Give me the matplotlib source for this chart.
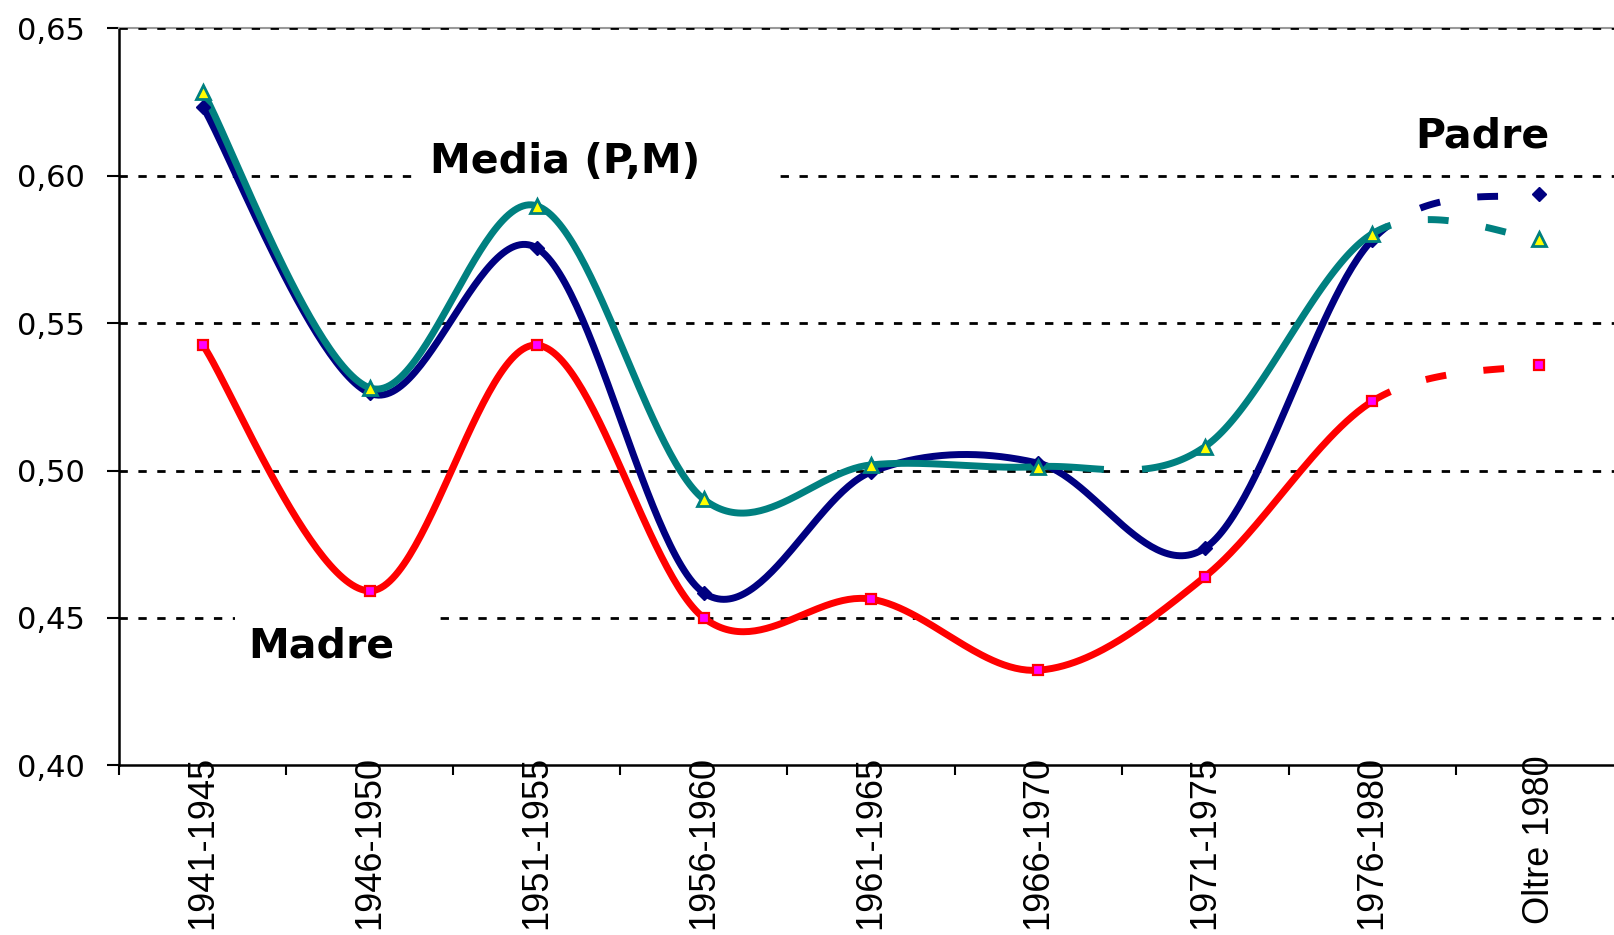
import numpy as np
import matplotlib
matplotlib.use("Agg")
import matplotlib.pyplot as plt
from matplotlib.patches import Rectangle
from matplotlib.ticker import FixedLocator, FuncFormatter

plt.rcParams["font.family"] = ["Liberation Sans", "DejaVu Sans"]

categories = ["1941-1945", "1946-1950", "1951-1955", "1956-1960", "1961-1965",
              "1966-1970", "1971-1975", "1976-1980", "Oltre 1980"]
padre = [0.6233, 0.5262, 0.5754, 0.4585, 0.4995, 0.5025, 0.4737, 0.5781, 0.5937]
madre = [0.5425, 0.4592, 0.5425, 0.4500, 0.4564, 0.4323, 0.4640, 0.5234, 0.5358]
media = [0.6284, 0.5280, 0.5897, 0.4902, 0.5019, 0.5013, 0.5081, 0.5802, 0.5785]
yticks = [0.40, 0.45, 0.50, 0.55, 0.60, 0.65]

TEAL = "#008080"
NAVY = "#000080"
RED = "#FF0000"


def bezier_segments(xv, yv, n=60):
    P = np.column_stack([xv, yv]).astype(float)
    segs = []
    t = np.linspace(0, 1, n)[:, None]
    for i in range(len(P) - 1):
        p0 = P[i - 1] if i > 0 else P[i]
        p1, p2 = P[i], P[i + 1]
        p3 = P[i + 2] if i + 2 < len(P) else P[i + 1]
        c1 = p1 + (p2 - p0) / 6.0
        c2 = p2 - (p3 - p1) / 6.0
        B = (1 - t) ** 3 * p1 + 3 * (1 - t) ** 2 * t * c1 + 3 * (1 - t) * t ** 2 * c2 + t ** 3 * p2
        segs.append(B)
    return segs


def draw_series(ax, values, color, dashed, z, lw=5.0):
    xv = np.arange(len(values))
    segs = bezier_segments(xv, values)
    run = []
    for i, s in enumerate(segs):
        if i in dashed:
            if run:
                pts = np.vstack(run)
                ax.plot(pts[:, 0], pts[:, 1], color=color, lw=lw, zorder=z,
                        solid_capstyle="butt", solid_joinstyle="round")
                run = []
            ax.plot(s[:, 0], s[:, 1], color=color, lw=lw, zorder=z,
                    linestyle=(0, dashed[i]), dash_capstyle="butt")
        else:
            run.append(s)
    if run:
        pts = np.vstack(run)
        ax.plot(pts[:, 0], pts[:, 1], color=color, lw=lw, zorder=z,
                solid_capstyle="butt", solid_joinstyle="round")


fig = plt.figure(figsize=(16.14, 9.35), dpi=100)
ax = fig.add_axes([0.074, 0.1813, 0.9313, 0.7887])
ax.set_xlim(-0.5, 8.5)
ax.set_ylim(0.40, 0.65)

# grid lines
for yv in yticks[1:]:
    ax.axhline(yv, color="black", lw=2.0, linestyle=(0, (3.0, 3.8)), zorder=2.6)

# white label boxes hiding gridlines
ax.add_patch(Rectangle((1.25, 0.593), 2.16, 0.023, facecolor="white",
                       edgecolor="none", zorder=2.7))
ax.add_patch(Rectangle((0.19, 0.428), 1.21, 0.025, facecolor="white",
                       edgecolor="none", zorder=2.7))

last = len(categories) - 2
draw_series(ax, madre, RED, {last: (3.0, 5.4)}, 3)
draw_series(ax, padre, NAVY, {last: (3.0, 5.4)}, 4)
draw_series(ax, media, TEAL, {5: (9.5, 5.5), last: (3.0, 5.4)}, 5)

x = np.arange(len(categories))
ax.plot(x, madre, linestyle="none", marker="s", ms=7, mfc="#FF00FF",
        mec=RED, mew=1.6, zorder=6)
ax.plot(x, padre, linestyle="none", marker="D", ms=7, mfc=NAVY,
        mec=NAVY, mew=1, zorder=6)
ax.plot(x, media, linestyle="none", marker="^", ms=10, mfc="#FFFF00",
        mec=TEAL, mew=2.0, zorder=7)

# labels
lab_kw = dict(fontsize=29.5, fontweight="bold", family="DejaVu Sans",
              ha="center", va="center", color="black", zorder=8)
ax.text(2.168, 0.6046, "Media (P,M)", **lab_kw)
ax.text(7.66, 0.6134, "Padre", **lab_kw)
ax.text(0.707, 0.4402, "Madre", **lab_kw)

# spines
ax.spines["right"].set_visible(False)
ax.spines["top"].set_color("#999999")
ax.spines["top"].set_linewidth(1.5)
ax.spines["top"].set_zorder(2.5)
ax.spines["left"].set_linewidth(1.8)
ax.spines["bottom"].set_linewidth(1.8)

# y axis
ax.yaxis.set_major_locator(FixedLocator(yticks))
ax.yaxis.set_major_formatter(FuncFormatter(lambda v, p: f"{v:.2f}".replace(".", ",")))
ax.tick_params(axis="y", direction="out", length=8.6, width=1.5, pad=16,
               labelsize=22)

# x axis
ax.set_xticks(x)
ax.set_xticklabels(categories, rotation=90, ha="center", va="top")
ax.set_xticks(np.arange(-0.5, len(categories), 1.0), minor=True)
ax.tick_params(axis="x", which="major", length=0, pad=-7, labelsize=26)
ax.tick_params(axis="x", which="minor", direction="out", length=7, width=1.5)

for lbl in ax.get_yticklabels():
    lbl.set_fontfamily("DejaVu Sans")
for lbl in ax.get_xticklabels():
    lbl.set_fontfamily("Liberation Sans")

fig.savefig("out.png", dpi=100, facecolor="white")
